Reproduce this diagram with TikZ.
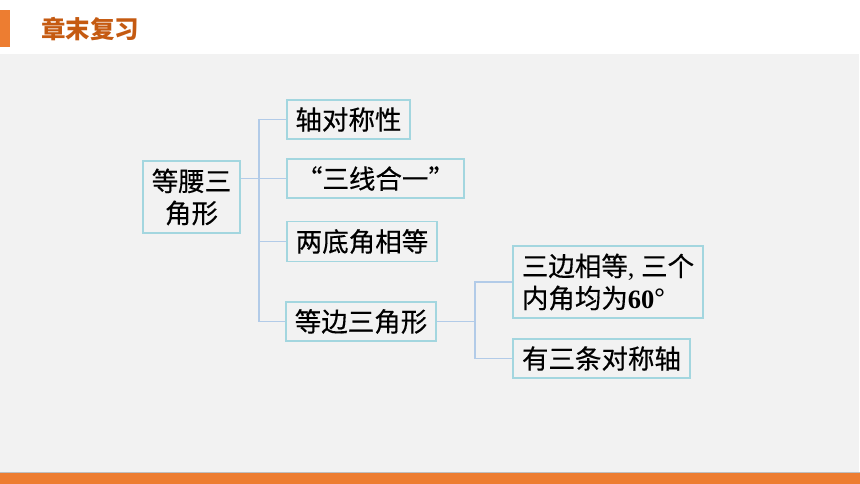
\documentclass[tikz,border=0pt]{standalone}
\usepackage{fontspec}
\setmainfont{Noto Sans CJK SC}
\newfontfamily\cjkb{Noto Sans CJK SC}[FakeBold=0.4]
\newfontfamily\tnr{Liberation Serif}
\definecolor{bg}{HTML}{F2F2F2}
\definecolor{boxc}{HTML}{A3D6DF}
\definecolor{linec}{HTML}{B2CBE8}
\definecolor{orangec}{HTML}{ED7D31}
\definecolor{titlec}{HTML}{C55A11}
\begin{document}
\begin{tikzpicture}[x=1pt,y=-1pt,
  box/.style={draw=boxc, line width=1.2pt, fill=bg, inner sep=0pt, align=center,
    font=\cjkb\fontsize{26.5}{32}\selectfont},
  link/.style={draw=linec, line width=1.2pt}]
\useasboundingbox (0,0) rectangle (860,484);
\fill[white] (0,0) rectangle (860,484);
\fill[bg] (0,54) rectangle (859,473);
\fill[orangec] (0,473) rectangle (860,484);
\draw[gray!50, line width=0.8pt] (0,472.6) -- (860,472.6);
\fill[orangec] (0,10) rectangle (10,47);
\node[anchor=west, inner sep=0pt, font=\fontsize{24.5}{24.5}\selectfont\bfseries, text=titlec] (title) at (41,29) {章末复习};

\node[box, minimum width=97pt, minimum height=72pt] (A) at (191.5,197) {等腰三\\角形};
\node[box, minimum width=123pt, minimum height=39pt] (B1) at (348.5,119.5) {轴对称性};
\node[box, minimum width=177pt, minimum height=39pt] (B2) at (375.5,178.5) {“三线合一”};
\node[box, minimum width=150pt, minimum height=40pt] (B3) at (362,241.5) {两底角相等};
\node[box, minimum width=150pt, minimum height=39pt] (B4) at (361,321.5) {等边三角形};
\node[box, minimum width=190pt, minimum height=72pt, align=left] (C1) at (608,282) {三边相等{\tnr, }三个\\内角均为{\tnr\bfseries 60}\raisebox{2pt}{\tnr\bfseries °}};
\node[box, minimum width=177pt, minimum height=39pt] (C2) at (601.5,358.5) {有三条对称轴};

\coordinate (j1) at (259,0);
\coordinate (j2) at (475,0);
\draw[link] (A.east |- B2.west) -- (B2.west);
\draw[link] (B1.west) -| (j1 |- B4.west) -- (B4.west);
\draw[link] (j1 |- B3.west) -- (B3.west);
\draw[link] (B4.east) -- (j2 |- B4.east);
\draw[link] (C1.west) -| (j2 |- C2.west) -- (C2.west);
\end{tikzpicture}
\end{document}
